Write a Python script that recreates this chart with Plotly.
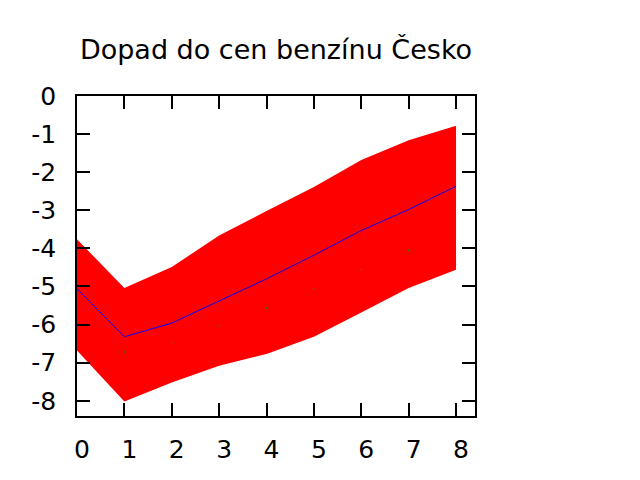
import plotly.graph_objects as go

x = [0, 1, 2, 3, 4, 5, 6, 7, 8]
mean = [-5.06, -6.32, -5.96, -5.37, -4.80, -4.18, -3.53, -2.98, -2.37]
upper = [-3.76, -5.04, -4.49, -3.66, -3.02, -2.39, -1.68, -1.16, -0.78]
lower = [-6.68, -8.02, -7.52, -7.08, -6.77, -6.32, -5.68, -5.04, -4.56]
dot_x = [1, 2, 3, 4, 5, 6, 7]
dot_y = [-6.72, -6.48, -6.03, -5.56, -5.06, -4.56, -4.05]

title = "Dopad do cen benzínu Česko"
xticks = [0, 1, 2, 3, 4, 5, 6, 7, 8]
xticktext = ["0", "1", "2", "3", "4", "5", "6", "7", "8"]
yticks = [0, -1, -2, -3, -4, -5, -6, -7, -8]
yticktext = ["0", "-1", "-2", "-3", "-4", "-5", "-6", "-7", "-8"]

fig = go.Figure()
fig.add_trace(go.Scatter(x=x, y=lower, mode="lines", line=dict(width=0, color="red"),
                         showlegend=False, hoverinfo="skip"))
fig.add_trace(go.Scatter(x=x, y=upper, mode="lines", line=dict(width=0, color="red"),
                         fill="tonexty", fillcolor="#ff0000", showlegend=False))
fig.add_trace(go.Scatter(x=dot_x, y=dot_y, mode="markers",
                         marker=dict(size=1.5, color="#00a000", line=dict(width=0)),
                         showlegend=False))
fig.add_trace(go.Scatter(x=x, y=mean, mode="lines", line=dict(width=1, color="#0000ff"),
                         showlegend=False))

axis_common = dict(showgrid=False, zeroline=False, showline=True, linecolor="black",
                   linewidth=1.5, mirror="ticks", ticks="inside", ticklen=13,
                   tickwidth=1.5, tickcolor="black", automargin=False,
                   tickfont=dict(family="DejaVu Sans", size=25, color="black"))

# page body has an 8px offset, compensate in margins
ML, MT = 69, 88
PW, PH = 398, 320

fig.update_layout(
    width=640, height=480,
    margin=dict(l=ML, r=640 - ML - PW, t=MT, b=480 - MT - PH),
    paper_bgcolor="white", plot_bgcolor="white",
    title=dict(text=title, x=(ML + PW / 2) / 640, xanchor="center",
               y=1 - 42 / 480, yanchor="middle",
               font=dict(family="DejaVu Sans", size=27, color="black")),
    xaxis=dict(range=[0, 8.4], tickvals=xticks, ticktext=xticktext,
               ticklabelstandoff=10, ticklabelshift=5, **axis_common),
    yaxis=dict(range=[-8.4, 0], tickvals=yticks, ticktext=yticktext,
               ticklabelstandoff=14, **axis_common),
)

fig.write_html("out.html")
